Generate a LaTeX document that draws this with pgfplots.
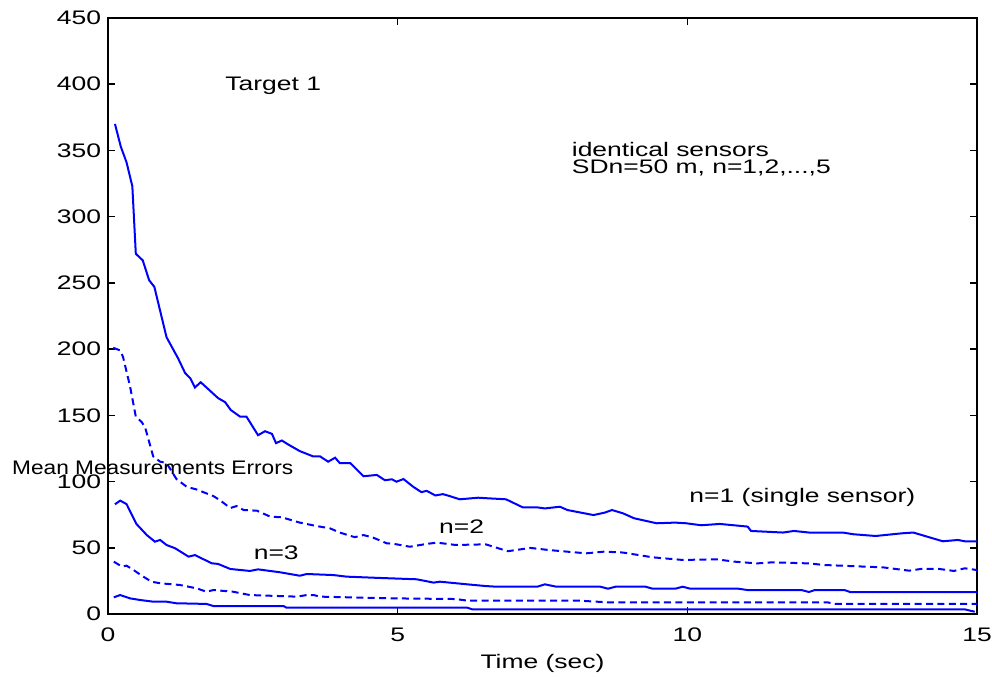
\documentclass[border=0pt]{standalone}
\usepackage{fontspec}
\setmainfont[FakeStretch=1.35]{Liberation Sans}
\usepackage{graphicx}
\usepackage{pgfplots}
\pgfplotsset{compat=1.18}

\begin{document}
\fontsize{9.8pt}{11.5pt}\selectfont
\begin{tikzpicture}
\begin{axis}[
    name=ax,
    scale only axis,
    width=434.5pt, height=298pt,
    xmin=0, xmax=15, ymin=0, ymax=450,
    xtick={0,5,10,15}, ytick={0,50,...,450},
    tick align=inside,
    major tick length=3.5pt,
    axis line style={line width=1.1pt},
    every tick/.style={black, line width=0.8pt},
    /pgf/number format/assume math mode=true,
    xticklabel style={anchor=base, yshift=-13.7pt},
    xlabel={Time (sec)},
    xlabel style={at={(axis description cs:0.5,0)}, anchor=base, yshift=-27.2pt},
    clip=false,
]
% n=1 (single sensor)
\addplot[blue, line width=1pt] coordinates {
(0.12,370) (0.22,353) (0.32,341) (0.42,323) (0.48,272) (0.60,267) (0.71,252) (0.80,247)
(1.01,209) (1.21,193) (1.33,182) (1.42,178) (1.50,171) (1.60,175) (1.90,163) (2.02,160)
(2.12,154) (2.28,149) (2.39,149) (2.59,135) (2.71,138) (2.83,136) (2.90,129) (3.00,131)
(3.11,128) (3.31,123) (3.54,119) (3.66,119) (3.80,115) (3.92,118) (4.00,114) (4.18,114)
(4.41,104) (4.64,105) (4.78,101) (4.90,101.7) (4.98,99.9) (5.10,101.9) (5.27,96) (5.41,92)
(5.50,93) (5.65,89.5) (5.78,90.5) (5.90,89) (6.07,86.6) (6.39,87.8) (6.58,87.3) (6.87,86.6)
(7.16,80.5) (7.41,80.5) (7.54,79.7) (7.80,81) (7.93,78.5) (8.38,74.7) (8.57,76.5) (8.70,78.5)
(8.89,76) (9.08,72.3) (9.47,68.5) (9.79,69) (9.98,68.5) (10.24,67) (10.56,68) (11.04,66)
(11.10,62.7) (11.65,61.5) (11.84,62.7) (12.10,61.5) (12.68,61.5) (12.87,60.2) (13.25,58.9)
(13.70,60.9) (13.90,61.5) (14.41,54.9) (14.67,55.9) (14.79,54.9) (15.0,54.9)
};
% n=2
\addplot[blue, line width=1pt, dash pattern=on 3.5pt off 2.2pt] coordinates {
(0.09,201) (0.21,199) (0.26,194) (0.38,172) (0.48,149) (0.58,145) (0.64,141) (0.78,119)
(0.90,115) (1.01,114) (1.18,102) (1.36,96) (1.53,94) (1.82,89) (1.93,86) (2.11,80)
(2.22,81.5) (2.34,78.5) (2.57,78) (2.80,73.5) (3.00,73) (3.31,69) (3.60,66.4) (3.83,64.7)
(4.00,61.5) (4.26,58) (4.41,59.6) (4.58,57.6) (4.81,53.4) (4.93,53) (5.21,50.8) (5.50,52.9)
(5.68,53.9) (6.00,52.1) (6.52,52.6) (6.90,47.4) (7.29,49.9) (7.61,48.3) (8.25,45.8)
(8.57,47.1) (8.89,46.4) (9.40,42.8) (9.92,40.8) (10.50,41.3) (10.82,39.5) (11.20,38.2)
(11.46,39) (12.10,38.2) (12.36,37) (13.38,35.2) (13.83,32.7) (14.03,34) (14.35,34)
(14.60,32.5) (14.79,34.5) (15,33.2)
};
% n=3
\addplot[blue, line width=1pt] coordinates {
(0.12,82.8) (0.21,85.6) (0.32,83) (0.49,68) (0.67,59.6) (0.81,54.6) (0.90,55.9) (1.01,52.1)
(1.16,49.6) (1.39,43.3) (1.50,44.5) (1.79,38.3) (1.90,37.8) (2.11,34) (2.45,32.5) (2.59,33.7)
(2.97,31.5) (3.31,28.9) (3.43,30.2) (3.89,29.4) (4.12,28.2) (4.58,27.4) (5.33,26.2) (5.62,23.7)
(5.73,24.4) (6.20,22.4) (6.52,21.1) (6.71,20.6) (7.41,20.6) (7.54,22.4) (7.74,20.6) (8.50,20.6)
(8.63,19.1) (8.76,20.6) (9.28,20.6) (9.40,19.1) (9.79,19.1) (9.92,20.6) (10.05,19.1)
(10.88,19.1) (11.04,18.1) (11.97,18.1) (12.10,16.6) (12.20,18.1) (12.71,18.1) (12.81,16.6)
(15,16.6)
};
% n=4
\addplot[blue, line width=1pt, dash pattern=on 3.5pt off 2.2pt] coordinates {
(0.10,39.5) (0.24,35.8) (0.32,36.5) (0.44,33.2) (0.61,28.2) (0.75,24.4) (0.90,23.2) (1.24,21.9)
(1.53,19.4) (1.70,16.8) (1.82,18.1) (2.16,16.8) (2.45,14.3) (3.26,13.1) (3.43,14.3) (3.55,14.3)
(3.66,13.1) (4.93,11.8) (6.0,11.3) (6.20,10.1) (8.12,10.1) (8.63,8.8) (12.42,8.8) (12.55,7.6)
(15,7.6)
};
% n=5
\addplot[blue, line width=1pt] coordinates {
(0.10,12.6) (0.21,14.3) (0.38,11.8) (0.55,10.6) (0.78,9.3) (1.01,9.3) (1.18,8.1) (1.70,7.6)
(1.82,6.0) (3.03,6.0) (3.08,4.8) (6.20,4.8) (6.29,3.5) (14.79,3.5) (14.96,1.7)
};

\node[anchor=base west, inner sep=0pt] at (axis cs:2.02,395) {Target 1};
\node[anchor=base west, inner sep=0pt] at (axis cs:8.00,345.3) {identical sensors};
\node[anchor=base west, inner sep=0pt] at (axis cs:8.00,332.8) {SDn=50 m, n=1,2,...,5};
\node[anchor=base west, inner sep=0pt] at (axis cs:10.03,84.1) {n=1 (single sensor)};
\node[anchor=base west, inner sep=0pt] at (axis cs:5.71,60.9) {n=2};
\node[anchor=base west, inner sep=0pt] at (axis cs:2.51,40.8) {n=3};
\node[anchor=base west, inner sep=0pt]
    at (axis cs:-1.66,105) {\scalebox{0.857}[1]{Mean Measurements Errors}};
\end{axis}
\pgfresetboundingbox
\path (ax.north east) ++(7.5pt,9pt) coordinate (tr);
\path (ax.south west) ++(-54pt,-31.5pt) rectangle (tr);
\end{tikzpicture}
\end{document}
